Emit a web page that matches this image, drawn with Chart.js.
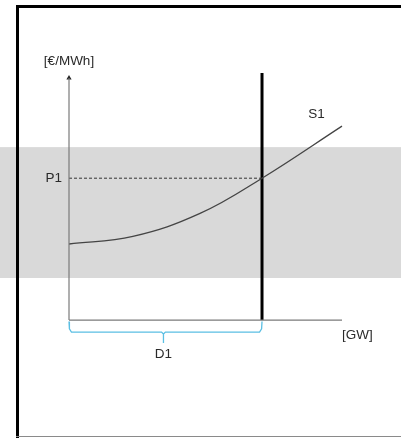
<!DOCTYPE html>
<html>
<head>
<meta charset="utf-8">
<script src="https://cdn.jsdelivr.net/npm/chart.js@4.4.1/dist/chart.umd.min.js"></script>
<style>
html,body{margin:0;padding:0;background:#fff;}
#wrap{width:401px;height:438px;position:relative;}
</style>
</head>
<body>
<div id="wrap"><canvas id="c" width="401" height="438"></canvas></div>
<script>
// Supply curve S1 (quantity GW, price €/MWh, arbitrary units)
const supplyX = [0, 23.4, 48, 70.7, 100];
const supplyY = [31.1, 34.2, 43.6, 58.0, 79.3];
// Demand D1 (vertical, inelastic) and resulting price P1
const demandQ = 70.7;
const demandTop = 101;
const priceP1 = 58;
// Grey price band
const bandLow = 17.2;
const bandHigh = 70.7;
// Axis extents
const xAxisEnd = 100;
const yAxisTop = 101;
// Brace under D1
const braceY = -4.9;
const braceTipY = -9.4;
const braceMid = 34.6;
// Text labels
const yUnit = '[€/MWh]';
const xUnit = '[GW]';
const priceLabel = 'P1';
const supplyLabel = 'S1';
const demandLabel = 'D1';

const supplyData = supplyX.map((x, i) => ({x, y: supplyY[i]}));
const braceData = [
  {x: 0, y: -0.6}, {x: 0.15, y: -3.6}, {x: 0.9, y: braceY},
  {x: braceMid - 0.7, y: braceY}, {x: braceMid, y: braceY - 0.8}, {x: braceMid, y: braceTipY},
  {x: braceMid, y: braceY - 0.8}, {x: braceMid + 0.7, y: braceY},
  {x: demandQ - 0.9, y: braceY}, {x: demandQ - 0.15, y: -3.6}, {x: demandQ, y: -0.6}
];

const FONT = '13.5px "Liberation Sans", Arial, sans-serif';

const decor = {
  id: 'decor',
  beforeDatasetsDraw(chart) {
    const {ctx, scales: {x, y}} = chart;
    ctx.save();
    // grey band across full width
    const t = y.getPixelForValue(bandHigh), b = y.getPixelForValue(bandLow);
    ctx.fillStyle = '#d9d9d9';
    ctx.fillRect(0, t, chart.width, b - t);
    // frame
    ctx.fillStyle = '#000';
    ctx.fillRect(16, 5, chart.width - 16, 3);
    ctx.fillRect(16, 5, 3, chart.height - 5);
    ctx.fillStyle = '#8a8a8a';
    ctx.fillRect(16, 436, chart.width - 16, 1);
    ctx.restore();
  },
  afterDatasetsDraw(chart) {
    const {ctx, scales: {x, y}} = chart;
    ctx.save();
    ctx.font = FONT;
    ctx.fillStyle = '#2a2a2a';
    ctx.textBaseline = 'middle';
    ctx.textAlign = 'center';
    ctx.fillText(yUnit, x.getPixelForValue(0), y.getPixelForValue(105.9));
    ctx.fillText(supplyLabel, x.getPixelForValue(90.7), y.getPixelForValue(84.2));
    ctx.fillText(demandLabel, x.getPixelForValue(braceMid), y.getPixelForValue(-13.9));
    ctx.textAlign = 'right';
    ctx.fillText(priceLabel, x.getPixelForValue(0) - 7, y.getPixelForValue(priceP1));
    ctx.textAlign = 'left';
    ctx.fillText(xUnit, x.getPixelForValue(xAxisEnd), y.getPixelForValue(-6.1));
    ctx.restore();
  }
};

new Chart(document.getElementById('c'), {
  type: 'scatter',
  data: {
    datasets: [
      { // x axis
        data: [{x: 0, y: 0}, {x: xAxisEnd, y: 0}],
        showLine: true, borderColor: '#7a7a7a', borderWidth: 1.2, pointRadius: 0
      },
      { // y axis
        data: [{x: 0, y: 0}, {x: 0, y: yAxisTop - 2}],
        showLine: true, borderColor: '#7a7a7a', borderWidth: 1.2, pointRadius: 0
      },
      { // arrow head
        data: [{x: 0, y: yAxisTop - 2}],
        pointStyle: 'triangle', pointRadius: 3, backgroundColor: '#222', borderColor: '#222', borderWidth: 0
      },
      { // P1 dashed
        data: [{x: 0, y: priceP1}, {x: demandQ, y: priceP1}],
        showLine: true, borderColor: '#333', borderWidth: 1, borderDash: [3, 2], pointRadius: 0
      },
      { // supply curve
        data: supplyData,
        showLine: true, borderColor: '#444', borderWidth: 1.3, pointRadius: 0,
        tension: 0.4
      },
      { // demand vertical
        data: [{x: demandQ, y: 0}, {x: demandQ, y: demandTop}],
        showLine: true, borderColor: '#000', borderWidth: 3, pointRadius: 0
      },
      { // brace
        data: braceData,
        showLine: true, borderColor: '#5bbfe3', borderWidth: 1.3, pointRadius: 0, tension: 0
      }
    ]
  },
  options: {
    responsive: false,
    animation: false,
    events: [],
    clip: false,
    layout: {padding: {left: 69, right: 59, top: 73, bottom: 69}},
    plugins: {legend: {display: false}, tooltip: {enabled: false}},
    scales: {
      x: {type: 'linear', min: 0, max: 100, display: false},
      y: {type: 'linear', min: -20, max: 101, display: false}
    }
  },
  plugins: [decor]
});
</script>
</body>
</html>
